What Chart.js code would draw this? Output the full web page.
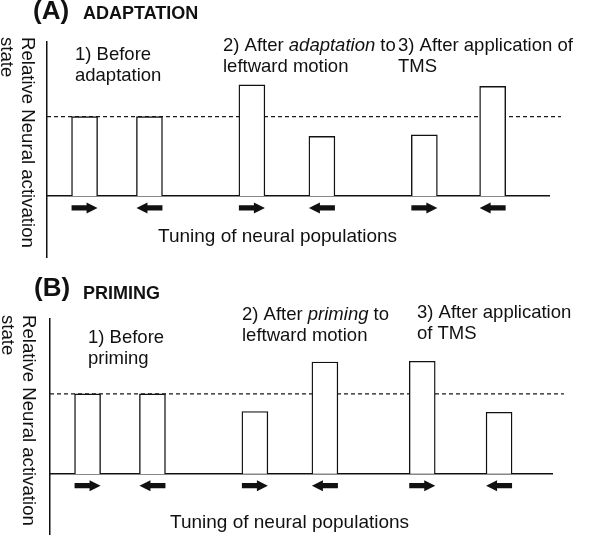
<!DOCTYPE html>
<html>
<head>
<meta charset="utf-8">
<script src="https://cdn.jsdelivr.net/npm/chart.js@4.4.0/dist/chart.umd.min.js"></script>
<style>
  html, body { margin: 0; padding: 0; background: #fff; }
  .panel { position: absolute; left: 0; width: 600px; }
  #panelA { top: 0; height: 267px; }
  #panelB { top: 267px; height: 268px; }
</style>
</head>
<body>
<div class="panel" id="panelA"><canvas id="chartA"></canvas></div>
<div class="panel" id="panelB"><canvas id="chartB"></canvas></div>
<script>
// preferred motion direction of each neural population
const tuning = ["right", "left", "right", "left", "right", "left"];

// where each population sits along the tuning axis
const positionsA = [0, 1.9, 4.9, 6.95, 9.95, 11.95];
const positionsB = [0, 1.9, 4.9, 6.95, 9.8, 12.05];

// relative neural activation (1 = resting level, dashed line)
const activationA = [1, 1, 1.4, 0.75, 0.77, 1.38];
const activationB = [1, 1, 0.78, 1.4, 1.41, 0.77];
const restingLevel = 1;

// axis ranges
const xRange = [-1.1, 13.6];
const dashEnd = 13.95;
const yRange = [-0.77, 1.94];

const INK = "#111";
Chart.defaults.font.family = "'Liberation Sans', Arial, sans-serif";
Chart.defaults.color = INK;

// --------------------
// arrows under the bars
// --------------------
const arrowPlugin = {
    id: "tuningArrows",
    afterDatasetsDraw(chart, args, opts) {
        const ctx = chart.ctx;
        const y = chart.scales.y.getPixelForValue(0) + opts.offset;
        ctx.save();
        ctx.fillStyle = INK;
        chart.getDatasetMeta(0).data.forEach((bar, i) => {
            const dir = opts.tuning[i] === "right" ? 1 : -1;
            const half = bar.width / 2;
            const tail = bar.x - dir * half;
            const tip = bar.x + dir * half;
            const base = tip - dir * 11;
            ctx.beginPath();
            ctx.moveTo(tail, y - 2.7);
            ctx.lineTo(base, y - 2.7);
            ctx.lineTo(base, y - 5.5);
            ctx.lineTo(tip, y);
            ctx.lineTo(base, y + 5.5);
            ctx.lineTo(base, y + 2.7);
            ctx.lineTo(tail, y + 2.7);
            ctx.closePath();
            ctx.fill();
        });
        ctx.restore();
    }
};

// --------------------
// titles and notes
// --------------------
function drawRich(ctx, line, x, y, size) {
    // *word* = italic
    const parts = line.split("*");
    let cx = x;
    parts.forEach((p, k) => {
        if (!p) return;
        ctx.font = (k % 2 ? "italic " : "") + size + "px 'Liberation Sans', Arial, sans-serif";
        ctx.fillText(p, cx, y);
        cx += ctx.measureText(p).width;
    });
}

const textPlugin = {
    id: "panelText",
    afterDraw(chart, args, o) {
        const ctx = chart.ctx;
        ctx.save();
        ctx.fillStyle = INK;
        ctx.textBaseline = "alphabetic";
        ctx.textAlign = "left";

        ctx.font = "bold 26px 'Liberation Sans', Arial, sans-serif";
        ctx.fillText(o.letter, o.letterPos[0], o.letterPos[1]);
        ctx.font = "bold 18px 'Liberation Sans', Arial, sans-serif";
        ctx.fillText(o.name, o.namePos[0], o.namePos[1]);

        o.notes.forEach(n => {
            n.lines.forEach((line, j) => drawRich(ctx, line, n.x, n.y + j * 20.5, 18.5));
        });

        ctx.font = "19px 'Liberation Sans', Arial, sans-serif";
        ctx.fillText(o.xTitle, o.xTitlePos[0], o.xTitlePos[1]);

        // y title reads top to bottom
        ctx.font = "18.6px 'Liberation Sans', Arial, sans-serif";
        ctx.translate(o.yTitlePos[0], o.yTitlePos[1]);
        ctx.rotate(Math.PI / 2);
        o.yTitle.forEach((line, j) => ctx.fillText(line, 0, j * 21));
        ctx.restore();
    }
};

function makePanel(id, positions, values, padding, text) {
    return new Chart(document.getElementById(id), {
        type: "bar",
        data: {
            datasets: [
                {
                    label: "Activation",
                    data: positions.map((p, i) => ({ x: p, y: values[i] })),
                    backgroundColor: "#fff",
                    borderColor: INK,
                    borderWidth: 1.4,
                    barThickness: 26
                },
                {
                    type: "line",
                    label: "Resting level",
                    data: [{ x: xRange[0], y: restingLevel }, { x: dashEnd, y: restingLevel }],
                    borderColor: "#1a1a1a",
                    borderWidth: 1.2,
                    borderDash: [4, 3],
                    pointRadius: 0,
                    clip: false
                }
            ]
        },
        options: {
            responsive: true,
            maintainAspectRatio: false,
            animation: false,
            layout: { padding: padding },
            plugins: {
                legend: { display: false },
                tooltip: { enabled: false },
                tuningArrows: { tuning: tuning, offset: 12 },
                panelText: text
            },
            scales: {
                x: {
                    type: "linear",
                    position: { y: 0 },
                    min: xRange[0],
                    max: xRange[1],
                    offset: false,
                    ticks: { display: false },
                    grid: { display: false, drawTicks: false },
                    border: { display: true, color: INK, width: 1.5 }
                },
                y: {
                    min: yRange[0],
                    max: yRange[1],
                    ticks: { display: false },
                    grid: { display: false, drawTicks: false },
                    border: { display: true, color: INK, width: 1.5 }
                }
            }
        },
        plugins: [arrowPlugin, textPlugin]
    });
}

// --------------------
// (A) Adaptation
// --------------------
makePanel("chartA", positionsA, activationA,
    { left: 47, top: 42, right: 51, bottom: 10 },
    {
        letter: "(A)", letterPos: [33, 19],
        name: "ADAPTATION", namePos: [83, 19],
        notes: [
            { lines: ["1) Before", "adaptation"], x: 75, y: 60 },
            { lines: ["2) After *adaptation* to", "leftward motion"], x: 223, y: 51 },
            { lines: ["3) After application of", "TMS"], x: 398, y: 51 }
        ],
        xTitle: "Tuning of neural populations", xTitlePos: [158, 242],
        yTitle: ["Relative Neural activation", "state"], yTitlePos: [22, 37]
    });

// --------------------
// (B) Priming
// --------------------
makePanel("chartB", positionsB, activationB,
    { left: 50, top: 52, right: 48, bottom: 0 },
    {
        letter: "(B)", letterPos: [34, 29],
        name: "PRIMING", namePos: [83, 32],
        notes: [
            { lines: ["1) Before", "priming"], x: 88, y: 76 },
            { lines: ["2) After *priming* to", "leftward motion"], x: 242, y: 53 },
            { lines: ["3) After application", "of TMS"], x: 417, y: 51 }
        ],
        xTitle: "Tuning of neural populations", xTitlePos: [170, 261],
        yTitle: ["Relative Neural activation", "state"], yTitlePos: [23, 48]
    });
</script>
</body>
</html>
